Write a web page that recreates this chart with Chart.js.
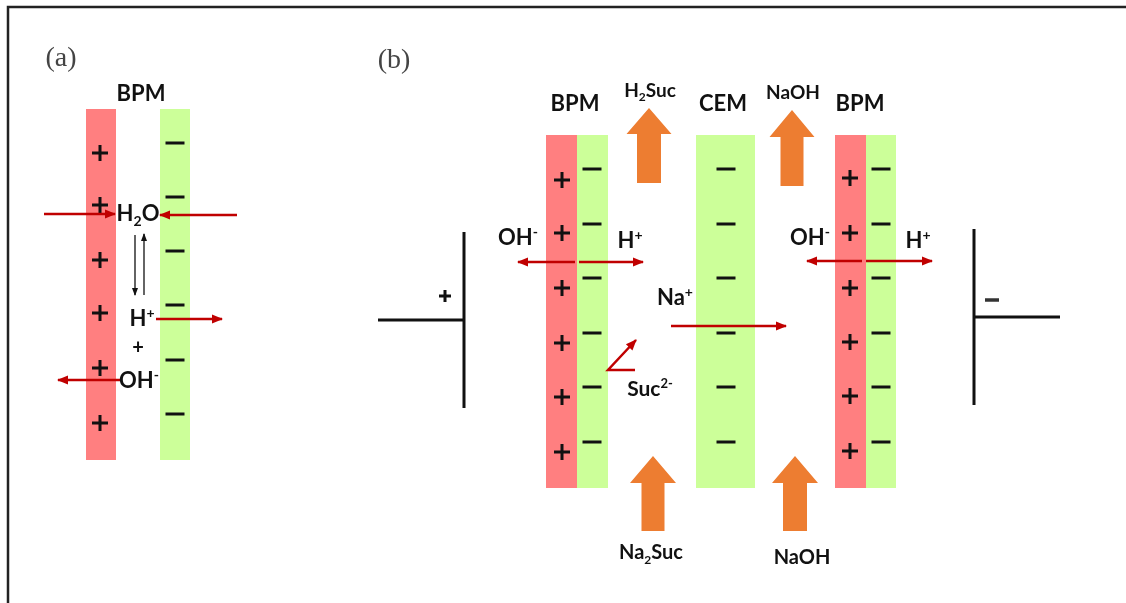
<!DOCTYPE html>
<html>
<head>
<meta charset="utf-8">
<script src="https://cdn.jsdelivr.net/npm/chart.js@4/dist/chart.umd.min.js"></script>
<style>
  html, body { margin: 0; padding: 0; background: #fff; }
  canvas { display: block; }
</style>
</head>
<body>
<canvas id="diagram" width="1126" height="603"></canvas>
<script>
// ---- membrane layers (x from / to, y from / to) ----
const layerLeft   = [86, 160, 546, 577, 696, 835, 866];
const layerRight  = [116, 190, 577, 608, 755, 866, 896];
const layerTop    = [109, 109, 135, 135, 135, 135, 135];
const layerBottom = [460, 460, 488, 488, 488, 488, 488];
const layerCharge = ['pos', 'neg', 'pos', 'neg', 'neg', 'pos', 'neg'];

// ---- fixed charges drawn on the layers ----
const plusX  = [100, 100, 100, 100, 100, 100, 562, 562, 562, 562, 562, 562, 850, 850, 850, 850, 850, 850];
const plusY  = [153, 205, 260, 313, 368, 423, 180, 233, 288, 343, 397, 452, 178, 233, 288, 342, 396, 451];
const minusX = [175, 175, 175, 175, 175, 175, 592, 592, 592, 592, 592, 592, 726, 726, 726, 726, 726, 726, 881, 881, 881, 881, 881, 881];
const minusY = [143, 197, 251, 305, 360, 414, 169, 224, 278, 333, 387, 442, 169, 224, 278, 333, 387, 442, 169, 224, 278, 333, 387, 442];

// ---- ion transport arrows (polyline x / y, head at the last point) ----
const ionPathX = [[44, 115], [237, 160], [156, 222], [120, 58], [575, 518], [579, 643], [862, 807], [866, 932], [671, 786], [635, 608, 636]];
const ionPathY = [[214, 214], [215, 215], [319, 319], [380, 380], [262, 262], [262, 262], [261, 261], [261, 261], [326, 326], [370, 370, 340]];

// water dissociation equilibrium arrows in (a)
const eqPathX = [[135, 135], [144, 144]];
const eqPathY = [[235, 295], [295, 234]];

// ---- stream flow (block arrows): tip x, tip y, head base y, bottom y ----
const flowTipX   = [649, 792, 653, 795];
const flowTipY   = [108, 110, 456, 456];
const flowBaseY  = [134, 137, 483, 483];
const flowBottom = [183, 186, 531, 531];
const flowHeadHalf  = [22.5, 22.5, 23, 23];
const flowShaftHalf = [12, 11.5, 11.5, 12];

// ---- electrodes ----
const electrodeX = [[464, 464], [378, 464], [974, 974], [974, 1060]];
const electrodeY = [[232, 408], [320, 320], [229, 405], [317, 317]];

// ---- figure frame ----
const frameX = [8, 8, 1126];
const frameY = [603, 7, 7];

// ---- text ----
const labelText = ['(a)', 'BPM', 'H_2O', 'H^+', '+', 'OH^-',
  '(b)', 'BPM', 'H_2Suc', 'CEM', 'NaOH', 'BPM',
  'OH^-', 'H^+', 'OH^-', 'H^+', 'Na^+', 'Suc^2-', 'Na_2Suc', 'NaOH'];
const labelX = [61, 141, 138, 142, 138, 139,
  394, 575, 650, 723, 793, 860,
  518, 630, 810, 918, 675, 650, 651, 802];
const labelY = [57, 93, 213, 318, 347, 380,
  59, 103, 90, 103, 92, 103,
  237, 240, 237, 240, 297, 388, 552, 557];
const labelSize = [28, 22, 22, 22, 20, 22,
  28, 22, 19, 22, 19, 22,
  22, 22, 22, 22, 22, 21, 20, 20];

const RED = '#c00000';
const ORANGE = '#ed7d31';
const POS_FILL = '#ff7f80';
const NEG_FILL = '#ccff99';
const INK = '#111111';

function pts(xs, ys) {
  return xs.map((x, i) => ({ x: x, y: ys[i] }));
}

const datasets = [];

// frame
datasets.push({
  data: pts(frameX, frameY), showLine: true, borderColor: '#222', borderWidth: 2.5,
  pointRadius: 0, fill: false, clip: false
});

// layers
layerLeft.forEach((x0, i) => {
  const x1 = layerRight[i], y0 = layerTop[i], y1 = layerBottom[i];
  datasets.push({
    data: pts([x0, x1, x1, x0, x0], [y0, y0, y1, y1, y0]),
    showLine: true, fill: 'shape',
    backgroundColor: layerCharge[i] === 'pos' ? POS_FILL : NEG_FILL,
    borderColor: 'transparent', borderWidth: 0, pointRadius: 0
  });
});

// block arrows
flowTipX.forEach((tx, i) => {
  const h = flowHeadHalf[i], s = flowShaftHalf[i];
  const b = flowBaseY[i], e = flowBottom[i];
  datasets.push({
    data: pts([tx - s, tx - s, tx - h, tx, tx + h, tx + s, tx + s, tx - s],
              [e, b, b, flowTipY[i], b, b, e, e]),
    showLine: true, fill: 'shape', backgroundColor: ORANGE,
    borderColor: 'transparent', borderWidth: 0, pointRadius: 0
  });
});

// electrodes
electrodeX.forEach((xs, i) => {
  datasets.push({
    data: pts(xs, electrodeY[i]), showLine: true, borderColor: INK, borderWidth: 3,
    pointRadius: 0, fill: false
  });
});

// fixed charges
datasets.push({
  data: pts(plusX, plusY), showLine: false, pointStyle: 'cross', pointRadius: 8,
  pointBorderWidth: 3, pointBorderColor: INK, pointBackgroundColor: INK
});
datasets.push({
  data: pts(minusX, minusY), showLine: false, pointStyle: 'line', pointRadius: 9.5,
  pointBorderWidth: 3, pointBorderColor: INK, pointBackgroundColor: INK
});
// electrode signs
datasets.push({
  data: [{ x: 445, y: 296 }], showLine: false, pointStyle: 'cross', pointRadius: 6,
  pointBorderWidth: 3, pointBorderColor: INK
});
datasets.push({
  data: [{ x: 992, y: 300 }], showLine: false, pointStyle: 'line', pointRadius: 7,
  pointBorderWidth: 3.5, pointBorderColor: '#333'
});

// ion arrows
ionPathX.forEach((xs, i) => {
  datasets.push({
    data: pts(xs, ionPathY[i]), showLine: true, borderColor: RED, borderWidth: 2.5,
    pointRadius: 0, fill: false, heads: { len: 10, half: 4.5, color: RED }
  });
});
eqPathX.forEach((xs, i) => {
  datasets.push({
    data: pts(xs, eqPathY[i]), showLine: true, borderColor: INK, borderWidth: 1.3,
    pointRadius: 0, fill: false, heads: { len: 7, half: 3, color: INK }
  });
});

// paint in push order: first pushed drawn first
const total = datasets.length;
datasets.forEach((d, i) => { d.order = total - i; });

const arrowHeads = {
  id: 'arrowHeads',
  afterDatasetsDraw(chart) {
    const ctx = chart.ctx;
    chart.data.datasets.forEach((ds, i) => {
      if (!ds.heads) return;
      const el = chart.getDatasetMeta(i).data;
      const tip = el[el.length - 1], from = el[el.length - 2];
      const dx = tip.x - from.x, dy = tip.y - from.y;
      const len = Math.hypot(dx, dy);
      const ux = dx / len, uy = dy / len;
      const bx = tip.x - ux * ds.heads.len, by = tip.y - uy * ds.heads.len;
      ctx.save();
      ctx.fillStyle = ds.heads.color;
      ctx.beginPath();
      ctx.moveTo(tip.x + ux, tip.y + uy);
      ctx.lineTo(bx - uy * ds.heads.half, by + ux * ds.heads.half);
      ctx.lineTo(bx + uy * ds.heads.half, by - ux * ds.heads.half);
      ctx.closePath();
      ctx.fill();
      ctx.restore();
    });
  }
};

// split "H_2O" / "OH^-" into runs of normal, sub and super text
function runs(str) {
  const out = [];
  let i = 0;
  while (i < str.length) {
    if (str[i] === '_') { out.push({ t: str[i + 1], k: 'sub' }); i += 2; }
    else if (str[i] === '^') { out.push({ t: str.slice(i + 1), k: 'sup' }); break; }
    else {
      let j = i;
      while (j < str.length && str[j] !== '_' && str[j] !== '^') j++;
      out.push({ t: str.slice(i, j), k: 'n' });
      i = j;
    }
  }
  return out;
}

const textLabels = {
  id: 'textLabels',
  afterDraw(chart) {
    const ctx = chart.ctx;
    const xs = chart.scales.x, ys = chart.scales.y;
    labelText.forEach((txt, i) => {
      const size = labelSize[i];
      const serif = txt[0] === '(';
      const fam = serif ? '"Liberation Serif", serif' : 'Lato, "Open Sans", sans-serif';
      const weight = serif ? 'normal' : 'bold';
      const small = Math.round(size * 0.62);
      const parts = runs(txt);
      ctx.save();
      ctx.fillStyle = serif ? '#444' : INK;
      ctx.textBaseline = 'alphabetic';
      ctx.textAlign = 'left';
      let width = 0;
      parts.forEach(p => {
        ctx.font = weight + ' ' + (p.k === 'n' ? size : small) + 'px ' + fam;
        p.w = ctx.measureText(p.t).width;
        width += p.w;
      });
      let x = xs.getPixelForValue(labelX[i]) - width / 2;
      const base = ys.getPixelForValue(labelY[i]) + size * (serif ? 0.33 : 0.36);
      parts.forEach(p => {
        ctx.font = weight + ' ' + (p.k === 'n' ? size : small) + 'px ' + fam;
        let y = base;
        if (p.k === 'sub') y += size * 0.22;
        if (p.k === 'sup') y -= size * 0.38;
        ctx.fillText(p.t, x, y);
        x += p.w;
      });
      ctx.restore();
    });
  }
};

new Chart(document.getElementById('diagram'), {
  type: 'scatter',
  data: { datasets: datasets },
  options: {
    responsive: false,
    animation: false,
    events: [],
    layout: { padding: 0, autoPadding: false },
    plugins: { legend: { display: false }, tooltip: { enabled: false } },
    scales: {
      x: { type: 'linear', min: 0, max: 1126, display: false },
      y: { type: 'linear', min: 0, max: 603, reverse: true, display: false }
    },
    elements: { line: { tension: 0, borderCapStyle: 'butt' } }
  },
  plugins: [arrowHeads, textLabels]
});
</script>
</body>
</html>
